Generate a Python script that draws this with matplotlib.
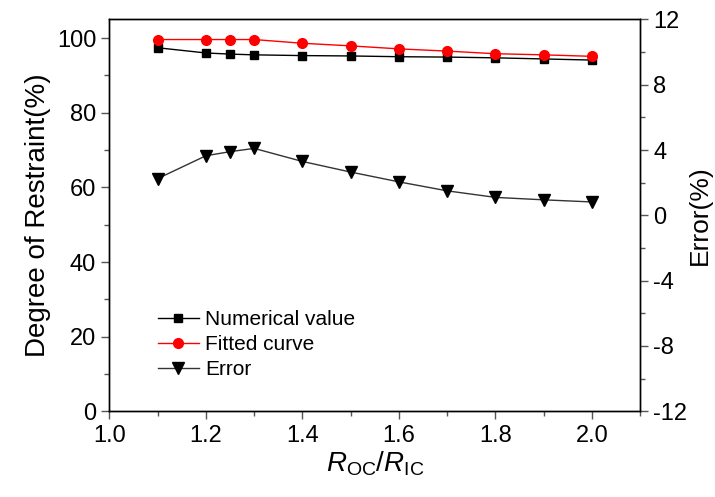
import matplotlib
matplotlib.use("Agg")
import matplotlib.pyplot as plt
from matplotlib.ticker import MultipleLocator

plt.rcParams["font.family"] = ["Liberation Sans", "DejaVu Sans"]
plt.rcParams["mathtext.fontset"] = "custom"
plt.rcParams["mathtext.rm"] = "Liberation Sans"
plt.rcParams["mathtext.it"] = "Liberation Sans:italic"
plt.rcParams["axes.unicode_minus"] = False

ratio = [1.1, 1.2, 1.25, 1.3, 1.4, 1.5, 1.6, 1.7, 1.8, 1.9, 2.0]
numerical = [97.4, 96.0, 95.7, 95.5, 95.3, 95.2, 95.0, 94.9, 94.7, 94.4, 94.1]
fitted = [99.6, 99.6, 99.6, 99.6, 98.6, 97.9, 97.1, 96.5, 95.8, 95.5, 95.1]
error = [2.25, 3.65, 3.9, 4.1, 3.3, 2.65, 2.05, 1.5, 1.1, 0.95, 0.82]

fig, ax = plt.subplots(figsize=(7.15, 4.97), dpi=100)
fig.subplots_adjust(left=0.153, right=0.8955, top=0.961, bottom=0.1724)
ax2 = ax.twinx()

l1, = ax.plot(ratio, numerical, color="black", lw=1, marker="s", ms=6,
              label="Numerical value")
l2, = ax.plot(ratio, fitted, color="red", lw=1, marker="o", ms=7,
              label="Fitted curve")
l3, = ax2.plot(ratio, error, color="#333333", lw=1, marker="v", ms=8,
               mfc="black", mec="black", label="Error")

ax.set_xlim(1.0, 2.1)
ax.set_ylim(0, 105)
ax2.set_ylim(-12, 12)

ax.xaxis.set_major_locator(MultipleLocator(0.2))
ax.xaxis.set_minor_locator(MultipleLocator(0.1))
ax.yaxis.set_major_locator(MultipleLocator(20))
ax.yaxis.set_minor_locator(MultipleLocator(10))
ax2.yaxis.set_major_locator(MultipleLocator(4))
ax2.yaxis.set_minor_locator(MultipleLocator(2))
ax.xaxis.set_major_formatter(matplotlib.ticker.FormatStrFormatter("%.1f"))

for a in (ax, ax2):
    a.tick_params(which="major", direction="out", length=6, width=1,
                  labelsize=17, color="#555555")
    a.tick_params(which="minor", direction="out", length=3.5, width=1,
                  color="#555555")
    for s in a.spines.values():
        s.set_linewidth(1)
ax.tick_params(axis="both", which="both", top=False, right=False)

ax.set_ylabel("Degree of Restraint(%)", fontsize=20)
ax2.set_ylabel("Error(%)", fontsize=19, labelpad=0)
ax.set_xlabel(r"$R_{\mathrm{OC}}/R_{\mathrm{IC}}$", fontsize=20, labelpad=2)

ax.legend([l1, l2, l3], ["Numerical value", "Fitted curve", "Error"],
          loc="upper left", bbox_to_anchor=(0.075, 0.28), frameon=False,
          fontsize=15, handlelength=2.0, handletextpad=0.3,
          labelspacing=0.3, borderaxespad=0)

fig.savefig("out.png", dpi=100)
